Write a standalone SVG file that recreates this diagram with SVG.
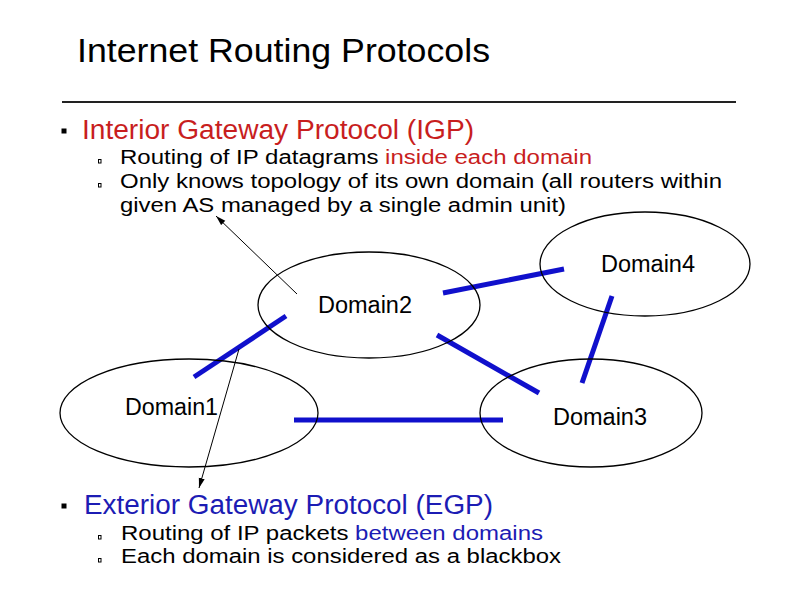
<svg xmlns="http://www.w3.org/2000/svg" width="794" height="595" viewBox="0 0 794 595">
<defs>
<style>
text{font-family:"Liberation Sans",Arial,sans-serif;fill:#000}
.title{font-size:33px}
.h{font-size:27px}
.s{font-size:20px}
.red{fill:#c81e1e}
.blue{fill:#1c1cb4}
.dom{fill:none;stroke:#000;stroke-width:1.3}
.lbl{font-size:23px}
.link{stroke:#1010cc;stroke-width:5;fill:none}
.arr{stroke:#000;stroke-width:1;fill:none;marker-end:url(#ah)}
.sb{fill:none;stroke:#000;stroke-width:1}
</style>
<marker id="ah" markerWidth="11" markerHeight="7" refX="10" refY="3.5" orient="auto" markerUnits="userSpaceOnUse">
<path d="M0,0.5 L10,3.5 L0,6.5 Z" fill="#000"/>
</marker>
</defs>
<rect width="794" height="595" fill="#fff"/>
<text class="title" x="77" y="62" textLength="413" lengthAdjust="spacingAndGlyphs">Internet Routing Protocols</text>
<line x1="62" y1="102" x2="736" y2="102" stroke="#222" stroke-width="2"/>

<rect x="61.5" y="128.5" width="5" height="5" fill="#000"/>
<text class="h red" x="82" y="139" textLength="392" lengthAdjust="spacingAndGlyphs">Interior Gateway Protocol (IGP)</text>
<rect class="sb" x="98.5" y="159.5" width="2.5" height="3.5"/>
<text class="s" x="120" y="164" textLength="472" lengthAdjust="spacingAndGlyphs">Routing of IP datagrams <tspan class="red">inside each domain</tspan></text>
<rect class="sb" x="98.5" y="183.5" width="2.5" height="3.5"/>
<text class="s" x="120" y="188" textLength="602" lengthAdjust="spacingAndGlyphs">Only knows topology of its own domain (all routers within</text>
<text class="s" x="120" y="212" textLength="446" lengthAdjust="spacingAndGlyphs">given AS managed by a single admin unit)</text>

<g id="connectors">
<line class="link" x1="443" y1="293" x2="564" y2="269"/>
<line class="link" x1="286" y1="316" x2="194" y2="377"/>
<line class="link" x1="437" y1="335" x2="539" y2="393"/>
<line class="link" x1="612" y1="296" x2="582" y2="383"/>
<line class="link" x1="294" y1="420" x2="503" y2="420"/>
<line class="arr" x1="297" y1="294" x2="216" y2="216"/>
<line class="arr" x1="239" y1="349" x2="199" y2="488"/>
</g>

<g id="domain2">
<ellipse class="dom" cx="369" cy="305" rx="111" ry="53"/>
<text class="lbl" x="318" y="313" textLength="94" lengthAdjust="spacingAndGlyphs">Domain2</text>
</g>
<g id="domain4">
<ellipse class="dom" cx="645" cy="264" rx="105" ry="52"/>
<text class="lbl" x="601" y="272" textLength="94" lengthAdjust="spacingAndGlyphs">Domain4</text>
</g>
<g id="domain1">
<ellipse class="dom" cx="189" cy="413" rx="129" ry="54"/>
<text class="lbl" x="125" y="415" textLength="93" lengthAdjust="spacingAndGlyphs">Domain1</text>
</g>
<g id="domain3">
<ellipse class="dom" cx="591" cy="413" rx="111" ry="54"/>
<text class="lbl" x="553" y="425" textLength="94" lengthAdjust="spacingAndGlyphs">Domain3</text>
</g>

<rect x="61.5" y="503.5" width="5" height="5" fill="#000"/>
<text class="h blue" x="84" y="514" textLength="409" lengthAdjust="spacingAndGlyphs">Exterior Gateway Protocol (EGP)</text>
<rect class="sb" x="98.5" y="535.5" width="2.5" height="3.5"/>
<text class="s" x="121" y="540" textLength="422" lengthAdjust="spacingAndGlyphs">Routing of IP packets <tspan class="blue">between domains</tspan></text>
<rect class="sb" x="98.5" y="558.5" width="2.5" height="3.5"/>
<text class="s" x="121" y="563" textLength="440" lengthAdjust="spacingAndGlyphs">Each domain is considered as a blackbox</text>
</svg>
